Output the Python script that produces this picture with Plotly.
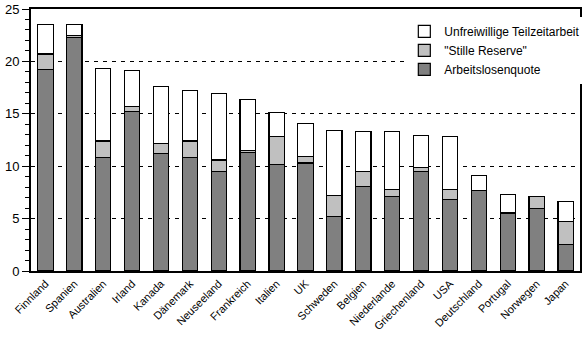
import plotly.graph_objects as go

countries = ["Finnland", "Spanien", "Australien", "Irland", "Kanada", "Dänemark",
             "Neuseeland", "Frankreich", "Italien", "UK", "Schweden", "Belgien",
             "Niederlande", "Griechenland", "USA", "Deutschland", "Portugal",
             "Norwegen", "Japan"]
arbeitslosenquote = [19.2, 22.3, 10.8, 15.2, 11.2, 10.8, 9.5, 11.3, 10.2, 10.3,
                     5.2, 8.1, 7.1, 9.5, 6.8, 7.7, 5.5, 6.0, 2.5]
stille_reserve = [1.5, 0.2, 1.6, 0.5, 1.0, 1.6, 1.1, 0.2, 2.6, 0.6,
                  2.0, 1.4, 0.7, 0.4, 1.0, 0.0, 0.1, 1.1, 2.2]
teilzeit = [2.8, 1.0, 6.9, 3.4, 5.4, 4.8, 6.3, 4.9, 2.3, 3.2,
            6.2, 3.8, 5.5, 3.0, 5.0, 1.4, 1.7, 0.0, 1.9]
y_ticks = [0, 5, 10, 15, 20, 25]

font = "Arial, Liberation Sans, sans-serif"
line = dict(color="black", width=1.2)

fig = go.Figure()
fig.add_trace(go.Bar(x=countries, y=arbeitslosenquote, name="Arbeitslosenquote",
                     marker=dict(color="#808080", line=line)))
fig.add_trace(go.Bar(x=countries, y=stille_reserve, name='"Stille Reserve"',
                     marker=dict(color="#C0C0C0", line=line)))
fig.add_trace(go.Bar(x=countries, y=teilzeit, name="Unfreiwillige Teilzeitarbeit",
                     marker=dict(color="white", line=line)))

fig.update_layout(
    barmode="stack",
    bargap=0.47,
    width=586, height=340,
    margin=dict(l=31, r=1, t=9, b=69),
    paper_bgcolor="white", plot_bgcolor="white",
    font=dict(family=font, size=12, color="black"),
    showlegend=True,
    legend=dict(x=0.680, y=0.970, xanchor="left", yanchor="top",
                bgcolor="white", borderwidth=0, traceorder="reversed",
                font=dict(size=12), tracegroupgap=0, itemwidth=30),
    xaxis=dict(tickangle=-45, showline=True, linecolor="black", linewidth=2,
               mirror=True, ticks="", tickfont=dict(size=11), showgrid=False),
    yaxis=dict(range=[0, 25], tickvals=y_ticks, showline=True, linecolor="black",
               linewidth=2, mirror=True, ticks="outside", ticklen=7, tickwidth=1,
               tickcolor="black", showgrid=True, gridcolor="black", gridwidth=1,
               griddash="4px,5px", zeroline=False, tickfont=dict(size=13),
               minor=dict(ticks="outside", ticklen=4, dtick=1, tickcolor="black",
                          showgrid=False)),
)

fig.write_html("out.html")
